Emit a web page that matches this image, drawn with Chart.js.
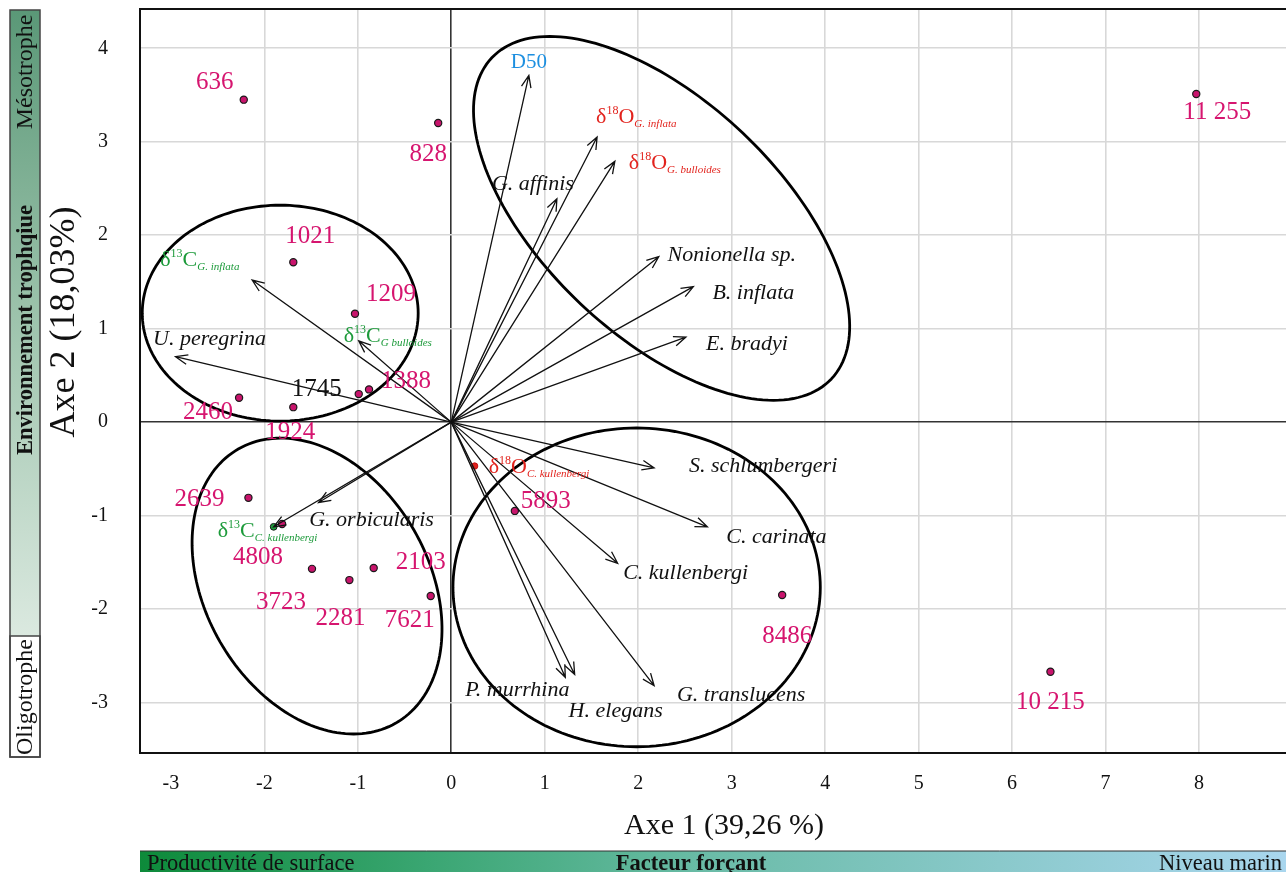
<!DOCTYPE html>
<html>
<head>
<meta charset="utf-8">
<script src="https://cdn.jsdelivr.net/npm/chart.js@4.4.0/dist/chart.umd.min.js"></script>
<style>
  body { margin: 0; background: #fff; }
  canvas { display: block; }
</style>
</head>
<body>
<canvas id="acp" width="1286" height="872"></canvas>
<script>
var serif = '"Liberation Serif", "Times New Roman", serif';

// individus (echantillons)
var sampleNames = ['636', '828', '1021', '1209', '1388', '1745', '2460', '1924', '2639', '4808', '3723', '2281', '2103', '7621', '5893', '8486', '11 255', '10 215'];
var sampleX = [-2.22, -0.14, -1.69, -1.03, -0.88, -0.99, -2.27, -1.69, -2.17, -1.81, -1.49, -1.09, -0.83, -0.22, 0.68, 3.54, 7.97, 6.41];
var sampleY = [3.45, 3.20, 1.71, 1.16, 0.35, 0.30, 0.26, 0.16, -0.81, -1.09, -1.57, -1.69, -1.56, -1.86, -0.95, -1.85, 3.51, -2.67];

// variables (fleches) - "δ18O|sub" = isotope with subscript
var varNames = ['D50', 'δ18O|G. inflata', 'δ18O|G. bulloides', 'G. affinis', 'Nonionella sp.', 'B. inflata', 'E. bradyi',
  'U. peregrina', 'δ13C|G. inflata', 'δ13C|G bulloides', 'S. schlumbergeri', 'C. carinata', 'C. kullenbergi',
  'P. murrhina', 'H. elegans', 'G. translucens', 'G. orbicularis', 'δ13C|C. kullenbergi'];
var varX = [0.83, 1.56, 1.75, 1.13, 2.22, 2.59, 2.51, -2.95, -2.13, -0.99, 2.17, 2.74, 1.78, 1.22, 1.32, 2.17, -1.42, -1.90];
var varY = [3.71, 3.05, 2.79, 2.39, 1.77, 1.45, 0.91, 0.70, 1.52, 0.87, -0.49, -1.12, -1.51, -2.73, -2.70, -2.82, -0.86, -1.12];

// variable supplementaire sans fleche
var extraNames = ['δ18O|C. kullenbergi'];
var extraX = [0.25];
var extraY = [-0.47];

// ellipses de regroupement : centre, demi-axes, angle (deg)
var ellCx = [-1.83, -1.436, 2.25, 1.983];
var ellCy = [1.166, -1.754, 2.18, -1.768];
var ellA = [1.476, 1.691, 2.50, 1.965];
var ellB = [1.155, 1.197, 1.26, 1.705];
var ellAngle = [0, -60.1, -43.4, 0];

var xTicks = [-3, -2, -1, 0, 1, 2, 3, 4, 5, 6, 7, 8];
var yTicks = [-3, -2, -1, 0, 1, 2, 3, 4];

// placement of labels (px, relative to mark)
var sampleLabelPos = [[-29, -17], [-10, 31], [17, -26], [36, -19], [37, -8], [-42, -5], [-31, 15], [-3, 25], [-49, 2],
  [-24, 33], [-31, 34], [-9, 38], [47, -5], [-21, 24], [31, -9], [5, 41], [21, 18], [0, 31]];
var varLabelPos = [[0, -13], [-1, -14], [14, 8], [-24, -15], [73, -1], [60, 7], [61, 7], [34, -17], [-92, -14], [-15, 1],
  [109, -2], [69, 10], [68, 10], [-48, 13], [41, 37], [87, 10], [53, 18], [-56, 10]];
var extraLabelPos = [[14, 7]];

var MAGENTA = '#d6156f';
var RED = '#e2231d';
var GREEN = '#1c9a3a';
var BLUE = '#1c8fe0';

var drawIsotope = function(ctx, x, y, name, color) {
  var parts = name.split('|');
  var head = parts[0];
  ctx.save();
  ctx.fillStyle = color;
  ctx.textAlign = 'left';
  ctx.textBaseline = 'alphabetic';
  ctx.font = '22px ' + serif;
  ctx.fillText('δ', x, y);
  x += ctx.measureText('δ').width;
  ctx.font = '12px ' + serif;
  ctx.fillText(head.substr(1, 2), x, y - 9);
  x += ctx.measureText(head.substr(1, 2)).width;
  ctx.font = '22px ' + serif;
  ctx.fillText(head.substr(3), x, y);
  x += ctx.measureText(head.substr(3)).width;
  ctx.font = 'italic 11px ' + serif;
  ctx.fillText(parts[1], x, y + 4);
  ctx.restore();
};

var drawArrow = function(ctx, x0, y0, x1, y1) {
  var ang = Math.atan2(y1 - y0, x1 - x0);
  var len = 13, spread = 0.38;
  ctx.beginPath();
  ctx.moveTo(x0, y0);
  ctx.lineTo(x1, y1);
  ctx.moveTo(x1 - len * Math.cos(ang - spread), y1 - len * Math.sin(ang - spread));
  ctx.lineTo(x1, y1);
  ctx.lineTo(x1 - len * Math.cos(ang + spread), y1 - len * Math.sin(ang + spread));
  ctx.stroke();
};

var biplot = {
  id: 'biplot',
  beforeDatasetsDraw: function(chart) {
    var ctx = chart.ctx, xs = chart.scales.x, ys = chart.scales.y, area = chart.chartArea;
    ctx.save();
    // top border of the plot
    ctx.strokeStyle = '#111';
    ctx.lineWidth = 2;
    ctx.beginPath();
    ctx.moveTo(area.left, area.top);
    ctx.lineTo(area.right, area.top);
    ctx.stroke();
    // ellipses
    ctx.lineWidth = 2.8;
    ctx.strokeStyle = '#000';
    for (var e = 0; e < ellCx.length; e++) {
      var th = ellAngle[e] * Math.PI / 180;
      ctx.beginPath();
      for (var k = 0; k <= 180; k++) {
        var t = k / 180 * 2 * Math.PI;
        var dx = ellA[e] * Math.cos(t), dy = ellB[e] * Math.sin(t);
        var px = xs.getPixelForValue(ellCx[e] + dx * Math.cos(th) - dy * Math.sin(th));
        var py = ys.getPixelForValue(ellCy[e] + dx * Math.sin(th) + dy * Math.cos(th));
        if (k === 0) ctx.moveTo(px, py); else ctx.lineTo(px, py);
      }
      ctx.closePath();
      ctx.stroke();
    }
    ctx.restore();
  },
  afterDatasetsDraw: function(chart) {
    var ctx = chart.ctx, xs = chart.scales.x, ys = chart.scales.y;
    var ox = xs.getPixelForValue(0), oy = ys.getPixelForValue(0);
    ctx.save();
    ctx.strokeStyle = '#111';
    ctx.lineWidth = 1.3;
    for (var i = 0; i < varNames.length; i++) {
      drawArrow(ctx, ox, oy, xs.getPixelForValue(varX[i]), ys.getPixelForValue(varY[i]));
    }
    // variable labels
    for (i = 0; i < varNames.length; i++) {
      var tx = xs.getPixelForValue(varX[i]) + varLabelPos[i][0];
      var ty = ys.getPixelForValue(varY[i]) + varLabelPos[i][1];
      var nm = varNames[i];
      if (nm.indexOf('δ18O') === 0) {
        drawIsotope(ctx, tx, ty, nm, RED);
      } else if (nm.indexOf('δ13C') === 0) {
        drawIsotope(ctx, tx, ty, nm, GREEN);
      } else {
        ctx.textAlign = 'center';
        ctx.textBaseline = 'middle';
        if (nm === 'D50') {
          ctx.font = '21px ' + serif;
          ctx.fillStyle = BLUE;
        } else {
          ctx.font = 'italic 22px ' + serif;
          ctx.fillStyle = '#111';
        }
        ctx.fillText(nm, tx, ty);
      }
    }
    for (i = 0; i < extraNames.length; i++) {
      drawIsotope(ctx, xs.getPixelForValue(extraX[i]) + extraLabelPos[i][0],
        ys.getPixelForValue(extraY[i]) + extraLabelPos[i][1], extraNames[i], RED);
    }
    // sample labels
    ctx.font = '25px ' + serif;
    ctx.textAlign = 'center';
    ctx.textBaseline = 'middle';
    for (i = 0; i < sampleNames.length; i++) {
      ctx.fillStyle = sampleNames[i] === '1745' ? '#111' : MAGENTA;
      ctx.fillText(sampleNames[i], xs.getPixelForValue(sampleX[i]) + sampleLabelPos[i][0],
        ys.getPixelForValue(sampleY[i]) + sampleLabelPos[i][1]);
    }
    ctx.restore();
  },
  afterDraw: function(chart) {
    var ctx = chart.ctx;
    ctx.save();
    // axis titles
    ctx.fillStyle = '#111';
    ctx.textAlign = 'center';
    ctx.textBaseline = 'middle';
    ctx.font = '30px ' + serif;
    ctx.fillText('Axe 1 (39,26 %)', 724, 826);
    ctx.save();
    ctx.translate(65, 322);
    ctx.rotate(-Math.PI / 2);
    ctx.font = '36px ' + serif;
    ctx.fillText('Axe 2 (18,03%)', 0, 0);
    ctx.restore();

    // left gradient bar : environnement trophique
    var g = ctx.createLinearGradient(0, 10, 0, 757);
    g.addColorStop(0, '#5a9877');
    g.addColorStop(0.45, '#a3c7b1');
    g.addColorStop(1, '#f2f7f3');
    ctx.fillStyle = g;
    ctx.fillRect(10, 10, 30, 747);
    ctx.fillStyle = '#fff';
    ctx.fillRect(10, 636, 30, 121);
    ctx.strokeStyle = '#444';
    ctx.lineWidth = 1.5;
    ctx.strokeRect(10, 10, 30, 747);
    ctx.strokeRect(10, 636, 30, 121);
    ctx.fillStyle = '#111';
    var side = [['Mésotrophe', 72, '', 24], ['Environnement trophqiue', 330, 'bold ', 22.5], ['Oligotrophe', 697, '', 24]];
    for (var s = 0; s < side.length; s++) {
      ctx.save();
      ctx.translate(26, side[s][1]);
      ctx.rotate(-Math.PI / 2);
      ctx.font = side[s][2] + side[s][3] + 'px ' + serif;
      ctx.fillText(side[s][0], 0, 0);
      ctx.restore();
    }

    // bottom gradient bar : facteur forcant
    var h = ctx.createLinearGradient(140, 0, 1286, 0);
    h.addColorStop(0, '#0d8a3a');
    h.addColorStop(0.25, '#3aa672');
    h.addColorStop(0.5, '#6bbca8');
    h.addColorStop(1, '#a9d6ee');
    ctx.fillStyle = h;
    ctx.fillRect(140, 851, 1146, 21);
    ctx.strokeStyle = '#333';
    ctx.lineWidth = 1;
    ctx.beginPath();
    ctx.moveTo(140, 851);
    ctx.lineTo(1286, 851);
    ctx.stroke();
    ctx.fillStyle = '#111';
    ctx.font = '22.5px ' + serif;
    ctx.textBaseline = 'alphabetic';
    ctx.textAlign = 'left';
    ctx.fillText('Productivité de surface', 147, 870);
    ctx.textAlign = 'right';
    ctx.fillText('Niveau marin', 1282, 870);
    ctx.textAlign = 'center';
    ctx.font = 'bold 22.5px ' + serif;
    ctx.fillText('Facteur forçant', 691, 870);
    ctx.restore();
  }
};

var gridColor = function(axis) {
  return function(c) {
    var v = c.tick ? c.tick.value : null;
    if (v === 0) return '#333';
    if (axis === 'x' && v === -3) return 'rgba(0,0,0,0)';
    return '#d8d8d8';
  };
};

var points = function(xs, ys) {
  return xs.map(function(v, i) { return {x: v, y: ys[i]}; });
};

new Chart(document.getElementById('acp'), {
  type: 'scatter',
  data: {
    datasets: [{
      label: 'Echantillons',
      data: points(sampleX, sampleY),
      backgroundColor: '#c8146c',
      borderColor: '#1a1a1a',
      borderWidth: 1.2,
      pointRadius: 3.6
    }, {
      label: 'δ13C C. kullenbergi',
      data: [{x: varX[17], y: varY[17]}],
      backgroundColor: '#1f9a3c',
      borderColor: '#1a1a1a',
      borderWidth: 1,
      pointRadius: 3.4
    }, {
      label: 'δ18O C. kullenbergi',
      data: points(extraX, extraY),
      backgroundColor: '#e0201c',
      borderColor: '#c01010',
      borderWidth: 1,
      pointRadius: 3.2
    }]
  },
  options: {
    responsive: false,
    animation: false,
    devicePixelRatio: 1,
    events: [],
    layout: { autoPadding: false, padding: { top: 9, left: 0, right: 0, bottom: 0 } },
    plugins: { legend: { display: false }, tooltip: { enabled: false } },
    scales: {
      x: {
        type: 'linear',
        min: -3.33,
        max: 8.93,
        afterBuildTicks: function(scale) {
          scale.ticks = xTicks.map(function(v) { return {value: v}; });
        },
        afterFit: function(scale) {
          scale.height = 119;
          scale.paddingLeft = 0;
          scale.paddingRight = 0;
        },
        grid: { color: gridColor('x'), lineWidth: 1.6, drawTicks: false },
        border: { display: true, color: '#111', width: 2 },
        ticks: { color: '#111', padding: 19, font: { family: serif, size: 20 } }
      },
      y: {
        type: 'linear',
        min: -3.54,
        max: 4.42,
        afterBuildTicks: function(scale) {
          scale.ticks = yTicks.map(function(v) { return {value: v}; });
        },
        afterFit: function(scale) {
          scale.width = 140;
          scale.paddingTop = 0;
          scale.paddingBottom = 0;
        },
        grid: { color: gridColor('y'), lineWidth: 1.6, drawTicks: false },
        border: { display: true, color: '#111', width: 2 },
        ticks: { color: '#111', padding: 32, font: { family: serif, size: 20 } }
      }
    }
  },
  plugins: [biplot]
});
</script>
</body>
</html>
